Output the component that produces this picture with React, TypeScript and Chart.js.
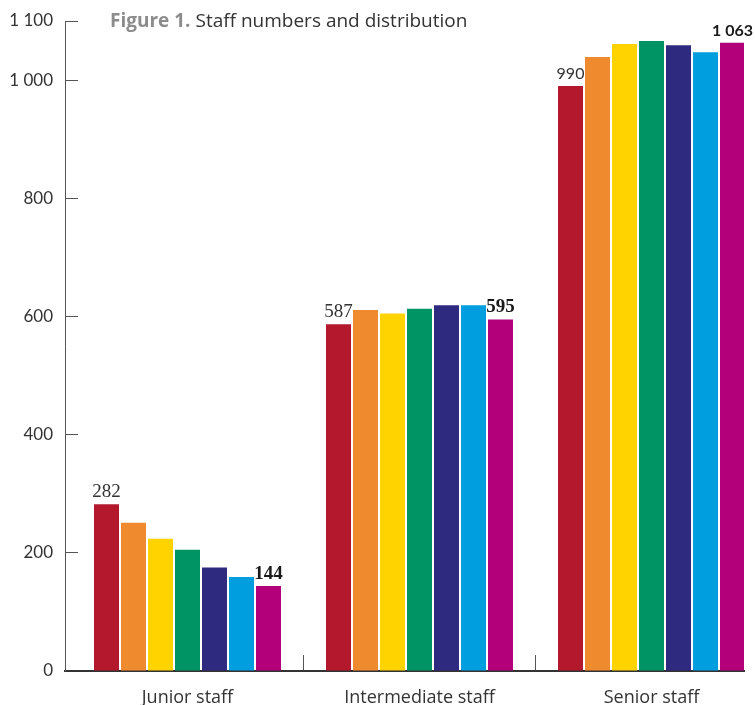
import React, { useEffect, useRef } from 'react';
import { Chart, registerables } from 'chart.js';

Chart.register(...registerables);

// ---- data ----
const categories = ['Junior staff', 'Intermediate staff', 'Senior staff'];
const seriesNames = ['Series 1', 'Series 2', 'Series 3', 'Series 4', 'Series 5', 'Series 6', 'Series 7'];
const series1 = [282, 587, 990];
const series2 = [251, 611, 1039];
const series3 = [224, 605, 1061];
const series4 = [205, 613, 1066];
const series5 = [175, 619, 1059];
const series6 = [159, 619, 1047];
const series7 = [144, 595, 1063];
const yTickValues = [0, 200, 400, 600, 800, 1000, 1100];

// ---- styles ----
const seriesColors = ['#B3182D', '#EF8A2F', '#FFD300', '#009464', '#2E2A80', '#009EDF', '#B3007A'];
const allSeries = [series1, series2, series3, series4, series5, series6, series7];

const fmt = (v: number): string => {
  if (v >= 1000) {
    return Math.floor(v / 1000) + ' ' + String(v % 1000).padStart(3, '0');
  }
  return String(v);
};

const valueLabels = {
  id: 'valueLabels',
  afterDatasetsDraw(chart: any) {
    const ctx = chart.ctx;
    const last = chart.data.datasets.length - 1;
    [0, last].forEach((di) => {
      const meta = chart.getDatasetMeta(di);
      meta.data.forEach((el: any, i: number) => {
        const v = chart.data.datasets[di].data[i].y;
        const bold = di === last;
        const serif = i < 2;
        ctx.save();
        ctx.font = `${bold ? 'bold ' : ''}${serif ? 19 : 16}px ${serif ? '"Liberation Serif"' : 'Lato'}`;
        ctx.fillStyle = bold ? '#1a1a1a' : '#333333';
        ctx.textAlign = 'center';
        ctx.textBaseline = 'alphabetic';
        ctx.fillText(fmt(v), el.x, el.y - 7);
        ctx.restore();
      });
    });
  },
};

export default function App() {
  const canvasRef = useRef<HTMLCanvasElement | null>(null);

  useEffect(() => {
    if (!canvasRef.current) return;
    const chart = new Chart(canvasRef.current, {
      type: 'bar',
      data: {
        datasets: allSeries.map((vals, s) => ({
          label: seriesNames[s],
          data: vals.map((y, i) => ({ x: i, y })),
          backgroundColor: seriesColors[s],
          borderWidth: 0,
          barPercentage: 0.926,
          categoryPercentage: 0.8147,
        })),
      },
      options: {
        animation: false,
        responsive: true,
        maintainAspectRatio: false,
        layout: { padding: { left: 0, right: 11, top: 21, bottom: 0 } },
        plugins: {
          legend: { display: false },
          tooltip: { enabled: false },
          title: { display: false },
        },
        scales: {
          x: {
            type: 'linear',
            offset: false,
            min: -0.528,
            max: 2.3987,
            afterBuildTicks: (s: any) => {
              s.ticks = categories.map((_, i) => ({ value: i }));
            },
            afterFit: (s: any) => {
              s.height = 34;
              s.paddingLeft = 0;
              s.paddingRight = 0;
            },
            ticks: {
              callback: (v: any) => categories[v] ?? '',
              font: { family: '"Open Sans"', size: 18 },
              color: '#333333',
              padding: 32,
              maxRotation: 0,
              autoSkip: false,
            },
            grid: {
              display: true,
              drawOnChartArea: false,
              drawTicks: true,
              tickLength: -16,
              offset: true,
              color: (c: any) => (c.index === 0 ? 'rgba(0,0,0,0)' : '#555555'),
              lineWidth: 1,
            },
            border: { display: true, color: '#333333', width: 2 },
          },
          y: {
            type: 'linear',
            min: 0,
            max: 1100,
            afterBuildTicks: (s: any) => {
              s.ticks = yTickValues.map((v) => ({ value: v }));
            },
            afterFit: (s: any) => {
              s.width = 65;
              s.paddingTop = 0;
              s.paddingBottom = 0;
            },
            ticks: {
              callback: (v: any) => fmt(Number(v)),
              font: { family: 'Lato', size: 17 },
              color: '#333333',
              padding: 25,
            },
            grid: {
              display: true,
              drawOnChartArea: false,
              drawTicks: true,
              tickLength: -13,
              color: '#555555',
              lineWidth: 1,
            },
            border: { display: true, color: '#555555', width: 1 },
          },
        },
      } as any,
      plugins: [valueLabels],
    });
    return () => chart.destroy();
  }, []);

  return (
    <div style={{ position: 'absolute', left: 0, top: 0, width: 755, height: 705, background: '#ffffff', overflow: 'hidden' }}>
      <canvas ref={canvasRef} />
      <div
        style={{
          position: 'absolute',
          left: 110,
          top: 11,
          fontFamily: '"Open Sans", sans-serif',
          fontSize: 19,
          lineHeight: '19px',
          color: '#333333',
          whiteSpace: 'nowrap',
        }}
      >
        <span style={{ color: '#8c8c8c', fontWeight: 'bold' }}>Figure 1.</span> Staff numbers and distribution
      </div>
    </div>
  );
}
